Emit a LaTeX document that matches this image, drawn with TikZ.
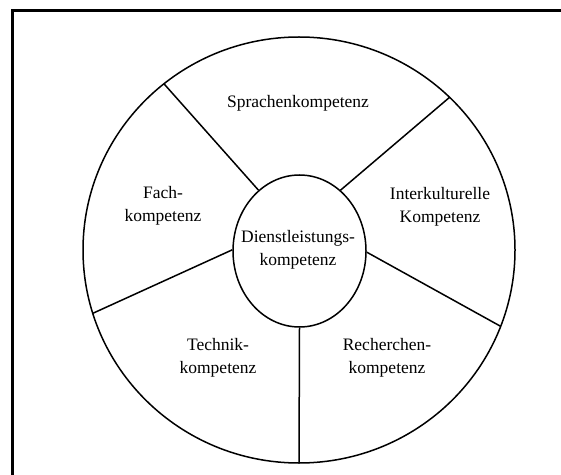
\documentclass[tikz,border=0pt]{standalone}
\usepackage{fontspec}
\setmainfont{Liberation Serif}
\usetikzlibrary{shapes.geometric}

\tikzset{
  wheel/.style={line width=1.5pt},
  segtext/.style={align=center, font=\fontsize{17.5}{23}\selectfont},
}

\begin{document}
\begin{tikzpicture}[x=1pt,y=1pt]
      \useasboundingbox (0,0) rectangle (561,474);
%      \draw[help lines] (0,0) grid[step=50] (561,474);

      % frame
      \draw[line width=3pt] (12,-5) -- (12,463) -- (566,463);

      % wheel
      \coordinate (rim) at (299,224);
      \draw[wheel] (rim) ellipse [x radius=216, y radius=213];
      \node[wheel, draw, ellipse, minimum width=133pt, minimum height=152pt] (dienst) at (299.5,223) {};

      \path (rim) ++(128.7:216 and 213) coordinate (o1);
      \path (rim) ++(45.8:216 and 213)  coordinate (o2);
      \path (rim) ++(-21:216 and 213)   coordinate (o3);
      \path (rim) ++(-90:216 and 213)   coordinate (o4);
      \path (rim) ++(197.3:216 and 213) coordinate (o5);

      \draw[wheel] (dienst.124.9) -- (o1);
      \draw[wheel] (dienst.56.8)  -- (o2);
      \draw[wheel] (dienst.-1.7)  -- (o3);
      \draw[wheel] (dienst.-90)   -- (o4);
      \draw[wheel] (dienst.179)   -- (o5);

      % labels
      \node[segtext] (dienstlabel) at (298,224)   {Dienstleistungs-\\kompetenz};
      \node[segtext] (sprachen)    at (298,371)   {Sprachenkompetenz};
      \node[segtext] (fach)        at (163,268.5) {Fach-\\kompetenz};
      \node[segtext] (inter)       at (440,267.5) {Interkulturelle\\Kompetenz};
      \node[segtext] (technik)     at (218,116.5) {Technik-\\kompetenz};
      \node[segtext] (recherchen)  at (387,116.5) {Recherchen-\\kompetenz};
\end{tikzpicture}
\end{document}
